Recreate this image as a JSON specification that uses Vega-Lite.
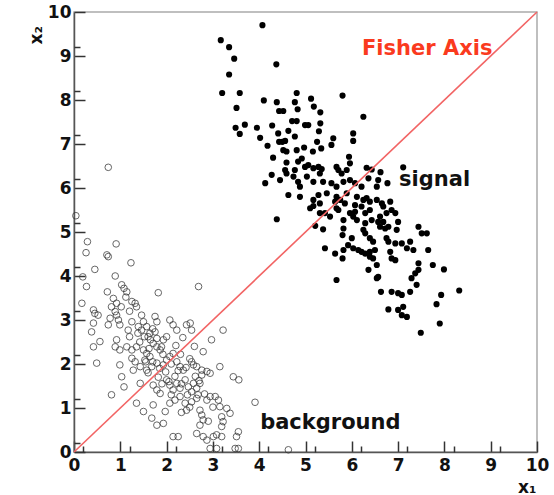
{
  "$schema": "https://vega.github.io/schema/vega-lite/v6.json",
  "width": 463,
  "height": 440,
  "autosize": {"type": "none"},
  "padding": {"left": 74, "top": 12, "right": 17, "bottom": 43},
  "background": "white",
  "config": {"view": {"stroke": "#aaa", "strokeWidth": 1.5}, "font": "DejaVu Sans", "axis": {"ticks": true}},
  "resolve": {"axis": {"x": "independent", "y": "independent"}},
  "datasets": {
    "line": [{"x": 0, "y": 0}, {"x": 10, "y": 10}],
    "labels": [
      {"t": "Fisher Axis", "x": 6.22, "y": 9.02},
      {"t": "signal", "x": 7.02, "y": 6.05},
      {"t": "background", "x": 4.02, "y": 0.52}
    ],
    "sig": [
      {"x":4.07,"y":9.70},{"x":3.17,"y":9.36},{"x":3.35,"y":9.20},{"x":3.46,"y":8.94},{"x":4.37,"y":8.81},{"x":3.35,"y":8.58},{"x":3.20,"y":8.16},{"x":3.58,"y":8.16},{"x":4.10,"y":7.99},{"x":4.81,"y":8.16},
      {"x":5.12,"y":8.03},{"x":3.51,"y":7.82},{"x":4.38,"y":7.95},{"x":4.43,"y":7.75},{"x":4.52,"y":7.75},{"x":4.77,"y":7.95},{"x":4.83,"y":7.79},{"x":5.18,"y":7.85},{"x":5.32,"y":7.72},{"x":3.49,"y":7.37},
      {"x":3.69,"y":7.44},{"x":3.58,"y":7.23},{"x":3.95,"y":7.37},{"x":4.28,"y":7.42},{"x":4.71,"y":7.52},{"x":4.81,"y":7.52},{"x":4.99,"y":7.43},{"x":5.06,"y":7.43},{"x":5.32,"y":7.47},{"x":4.02,"y":7.14},
      {"x":4.63,"y":7.30},{"x":5.29,"y":7.29},{"x":4.18,"y":6.96},{"x":4.43,"y":7.05},{"x":4.50,"y":7.05},{"x":4.56,"y":7.07},{"x":4.77,"y":7.17},{"x":4.52,"y":6.86},{"x":4.59,"y":6.83},{"x":4.81,"y":6.86},
      {"x":4.97,"y":6.92},{"x":5.16,"y":6.83},{"x":5.25,"y":7.05},{"x":5.34,"y":6.90},{"x":5.60,"y":7.13},{"x":5.56,"y":6.98},{"x":4.30,"y":6.69},{"x":4.59,"y":6.58},{"x":4.84,"y":6.60},{"x":4.92,"y":6.67},
      {"x":4.56,"y":6.41},{"x":4.77,"y":6.41},{"x":4.99,"y":6.48},{"x":5.06,"y":6.52},{"x":5.17,"y":6.45},{"x":5.28,"y":6.48},{"x":5.35,"y":6.43},{"x":4.27,"y":6.30},{"x":5.67,"y":6.48},{"x":4.41,"y":7.24},
      {"x":5.80,"y":8.10},{"x":6.25,"y":7.62},{"x":6.03,"y":7.24},{"x":6.03,"y":7.07},{"x":5.94,"y":6.71},{"x":5.96,"y":6.56},{"x":5.71,"y":6.41},{"x":5.78,"y":6.33},{"x":5.89,"y":6.41},{"x":6.32,"y":6.46},
      {"x":6.43,"y":6.42},{"x":6.62,"y":6.36},{"x":7.11,"y":6.47},{"x":6.36,"y":6.22},{"x":6.57,"y":6.18},{"x":6.77,"y":6.11},{"x":6.54,"y":6.03},{"x":6.21,"y":6.03},{"x":6.07,"y":6.11},
      {"x":4.59,"y":6.33},{"x":4.74,"y":6.26},{"x":5.03,"y":6.26},{"x":5.17,"y":6.14},{"x":5.31,"y":6.33},{"x":5.38,"y":6.14},{"x":5.56,"y":6.11},{"x":5.67,"y":6.03},{"x":5.82,"y":6.14},{"x":5.96,"y":6.18},
      {"x":4.13,"y":6.11},{"x":4.45,"y":6.18},{"x":4.63,"y":5.84},{"x":4.88,"y":6.03},{"x":4.84,"y":6.14},{"x":5.10,"y":5.54},{"x":5.17,"y":5.59},{"x":4.38,"y":5.29},{"x":5.28,"y":5.84},{"x":5.46,"y":5.88},
      {"x":5.42,"y":5.43},{"x":5.21,"y":5.14},{"x":5.38,"y":5.06},{"x":5.71,"y":5.50},{"x":5.85,"y":5.65},{"x":5.64,"y":5.69},{"x":5.67,"y":5.54},{"x":5.82,"y":5.27},{"x":5.82,"y":5.08},{"x":5.80,"y":4.93},
      {"x":6.07,"y":5.61},{"x":6.21,"y":5.58},{"x":6.29,"y":5.43},{"x":6.07,"y":5.46},{"x":5.96,"y":5.43},{"x":6.03,"y":5.35},{"x":6.32,"y":5.77},{"x":6.39,"y":5.69},{"x":6.65,"y":5.65},{"x":6.83,"y":5.69},
      {"x":6.86,"y":5.50},{"x":6.75,"y":5.43},{"x":6.94,"y":5.43},{"x":6.29,"y":5.20},{"x":6.43,"y":5.27},{"x":6.57,"y":5.23},{"x":6.68,"y":5.23},{"x":6.79,"y":5.12},{"x":6.72,"y":5.08},{"x":7.00,"y":5.23},
      {"x":6.00,"y":4.86},{"x":5.92,"y":4.70},{"x":6.03,"y":4.63},{"x":6.29,"y":4.97},{"x":6.39,"y":4.86},{"x":6.46,"y":4.78},{"x":5.42,"y":4.63},{"x":5.64,"y":4.51},{"x":5.82,"y":4.59},{"x":5.80,"y":4.40},
      {"x":6.14,"y":4.59},{"x":6.21,"y":4.55},{"x":6.29,"y":4.51},{"x":6.39,"y":4.55},{"x":6.50,"y":4.59},{"x":6.39,"y":4.44},{"x":6.46,"y":4.40},{"x":6.75,"y":4.86},{"x":6.79,"y":4.78},{"x":6.94,"y":4.74},
      {"x":7.08,"y":4.74},{"x":7.26,"y":4.78},{"x":7.19,"y":4.63},{"x":7.33,"y":4.59},{"x":6.83,"y":4.55},{"x":6.86,"y":4.40},{"x":6.94,"y":4.36},{"x":7.44,"y":5.12},{"x":7.51,"y":4.97},{"x":7.62,"y":4.97},
      {"x":7.65,"y":4.59},{"x":7.44,"y":4.29},{"x":7.44,"y":4.14},{"x":7.37,"y":4.06},{"x":7.29,"y":3.95},{"x":7.40,"y":3.80},{"x":7.75,"y":4.25},{"x":7.99,"y":4.15},{"x":6.36,"y":4.14},{"x":6.54,"y":4.25},
      {"x":6.57,"y":3.98},{"x":6.54,"y":3.95},{"x":5.67,"y":3.91},{"x":6.63,"y":3.64},{"x":6.86,"y":3.64},{"x":7.00,"y":3.61},{"x":7.08,"y":3.57},{"x":7.26,"y":3.64},{"x":7.93,"y":3.57},{"x":7.83,"y":3.36},
      {"x":7.90,"y":2.92},{"x":6.79,"y":3.24},{"x":7.00,"y":3.23},{"x":7.11,"y":3.30},{"x":7.08,"y":3.11},{"x":7.19,"y":3.07},{"x":7.49,"y":2.71},{"x":8.32,"y":3.67},
      {"x":4.88,"y":5.80},{"x":5.17,"y":5.73},{"x":5.31,"y":5.65},{"x":5.67,"y":5.80},{"x":5.75,"y":5.73},{"x":5.89,"y":5.88},{"x":6.11,"y":5.80},{"x":6.25,"y":5.73},{"x":6.54,"y":5.73},{"x":6.68,"y":5.58},
      {"x":6.25,"y":5.05},{"x":6.61,"y":5.12},{"x":6.97,"y":5.05},{"x":5.31,"y":5.43},{"x":5.53,"y":5.35},{"x":6.11,"y":5.27},{"x":6.39,"y":5.50},{"x":6.61,"y":5.35}
    ],
    "bkg": [
      {"x":0.29,"y":4.78},{"x":0.26,"y":4.53},{"x":0.91,"y":4.73},{"x":0.71,"y":4.48},{"x":0.74,"y":4.44},{"x":1.23,"y":4.30},{"x":0.45,"y":4.15},{"x":0.19,"y":3.98},{"x":0.89,"y":4.00},{"x":0.27,"y":3.76},
      {"x":1.03,"y":3.80},{"x":1.08,"y":3.72},{"x":1.14,"y":3.64},{"x":2.69,"y":3.76},{"x":1.82,"y":3.62},{"x":0.72,"y":3.64},{"x":0.17,"y":3.38},{"x":0.85,"y":3.49},{"x":0.92,"y":3.38},{"x":0.81,"y":3.30},
      {"x":1.25,"y":3.42},{"x":1.32,"y":3.38},{"x":1.35,"y":3.30},{"x":0.42,"y":3.23},{"x":0.45,"y":3.15},{"x":0.52,"y":3.11},{"x":0.89,"y":3.19},{"x":0.92,"y":3.11},{"x":0.96,"y":3.00},{"x":0.74,"y":2.89},
      {"x":0.78,"y":3.04},{"x":0.38,"y":2.73},{"x":0.42,"y":2.93},{"x":0.56,"y":2.51},{"x":0.42,"y":2.39},{"x":0.99,"y":2.89},{"x":1.17,"y":2.77},{"x":1.25,"y":2.96},{"x":1.46,"y":3.11},{"x":1.50,"y":2.96},
      {"x":1.39,"y":2.85},{"x":1.46,"y":2.77},{"x":1.57,"y":2.85},{"x":1.64,"y":2.70},{"x":1.60,"y":2.62},{"x":1.75,"y":2.73},{"x":1.79,"y":2.58},{"x":1.75,"y":3.08},{"x":1.79,"y":2.96},{"x":2.07,"y":3.00},
      {"x":2.14,"y":2.89},{"x":2.22,"y":2.77},{"x":2.43,"y":2.89},{"x":2.51,"y":2.93},{"x":2.54,"y":2.77},{"x":3.22,"y":2.77},{"x":2.97,"y":2.55},{"x":2.79,"y":2.28},{"x":0.92,"y":2.55},{"x":0.89,"y":2.39},
      {"x":0.99,"y":2.32},{"x":1.14,"y":2.39},{"x":1.25,"y":2.32},{"x":1.35,"y":2.39},{"x":0.49,"y":2.02},{"x":0.99,"y":1.98},{"x":1.25,"y":2.13},{"x":1.32,"y":2.05},{"x":1.28,"y":1.86},{"x":1.50,"y":2.32},
      {"x":1.57,"y":2.24},{"x":1.64,"y":2.17},{"x":1.53,"y":2.09},{"x":1.71,"y":2.47},{"x":1.79,"y":2.39},{"x":1.86,"y":2.32},{"x":1.93,"y":2.55},{"x":1.89,"y":2.39},{"x":1.43,"y":1.94},{"x":1.57,"y":1.86},
      {"x":1.68,"y":1.94},{"x":1.79,"y":2.02},{"x":1.93,"y":1.98},{"x":2.00,"y":2.09},{"x":2.07,"y":2.17},{"x":2.14,"y":2.24},{"x":2.22,"y":2.05},{"x":2.29,"y":1.94},{"x":2.36,"y":1.86},{"x":2.54,"y":2.05},
      {"x":2.58,"y":1.98},{"x":2.65,"y":1.94},{"x":2.76,"y":1.86},{"x":2.87,"y":1.83},{"x":2.94,"y":1.79},{"x":2.76,"y":1.75},{"x":3.15,"y":1.94},{"x":3.44,"y":1.71},{"x":3.56,"y":1.64},{"x":1.43,"y":1.56},
      {"x":1.71,"y":1.52},{"x":1.79,"y":1.41},{"x":1.86,"y":1.33},{"x":2.00,"y":1.64},{"x":2.07,"y":1.52},{"x":2.14,"y":1.41},{"x":2.22,"y":1.56},{"x":2.29,"y":1.45},{"x":2.40,"y":1.64},{"x":2.47,"y":1.48},
      {"x":2.54,"y":1.37},{"x":2.58,"y":1.56},{"x":2.65,"y":1.45},{"x":2.72,"y":1.56},{"x":2.68,"y":1.30},{"x":0.81,"y":1.30},{"x":1.08,"y":1.48},{"x":1.03,"y":1.71},{"x":1.35,"y":1.11},{"x":1.50,"y":0.92},
      {"x":1.71,"y":1.07},{"x":1.68,"y":0.77},{"x":1.79,"y":0.61},{"x":1.93,"y":0.65},{"x":1.97,"y":0.92},{"x":2.07,"y":1.11},{"x":2.18,"y":1.18},{"x":2.29,"y":1.26},{"x":2.40,"y":1.11},{"x":2.43,"y":0.95},
      {"x":2.54,"y":1.14},{"x":2.65,"y":1.22},{"x":2.72,"y":0.95},{"x":2.76,"y":0.84},{"x":2.79,"y":0.73},{"x":2.72,"y":0.61},{"x":2.87,"y":1.18},{"x":2.94,"y":1.26},{"x":3.05,"y":1.26},{"x":3.12,"y":1.18},
      {"x":3.15,"y":1.03},{"x":3.19,"y":0.80},{"x":3.22,"y":0.69},{"x":3.19,"y":0.58},{"x":3.30,"y":0.99},{"x":3.37,"y":0.88},{"x":3.91,"y":1.13},{"x":2.65,"y":0.42},{"x":2.79,"y":0.35},{"x":2.87,"y":0.27},
      {"x":3.01,"y":0.35},{"x":3.08,"y":0.39},{"x":3.19,"y":0.35},{"x":3.55,"y":0.46},{"x":3.51,"y":0.35},{"x":2.14,"y":0.35},{"x":2.25,"y":0.35},{"x":2.94,"y":0.08},{"x":3.08,"y":0.08},{"x":3.48,"y":0.08},
      {"x":3.55,"y":0.08},{"x":0.74,"y":6.47},{"x":0.04,"y":5.37},{"x":4.63,"y":0.05},
      {"x":1.62,"y":2.35},{"x":1.70,"y":2.05},{"x":1.98,"y":1.82},{"x":2.18,"y":1.72},{"x":2.32,"y":1.55},{"x":1.92,"y":2.22},{"x":2.10,"y":2.00},{"x":2.42,"y":1.92},{"x":2.62,"y":1.72},{"x":1.52,"y":2.62},
      {"x":1.70,"y":2.80},{"x":1.42,"y":2.50},{"x":1.20,"y":2.62},{"x":1.02,"y":3.30},{"x":1.12,"y":3.52},{"x":1.20,"y":3.20},{"x":2.00,"y":2.62},{"x":2.20,"y":2.42},{"x":2.30,"y":2.22},{"x":2.50,"y":2.12},
      {"x":2.70,"y":1.62},{"x":2.82,"y":1.32},{"x":2.50,"y":1.02},{"x":2.32,"y":0.90},{"x":3.00,"y":1.02},{"x":2.90,"y":0.70},{"x":1.82,"y":1.70},{"x":1.60,"y":1.80},{"x":2.10,"y":1.30},{"x":2.60,"y":2.40},
      {"x":1.55,"y":2.05},{"x":1.85,"y":1.90},{"x":2.25,"y":1.85},{"x":2.05,"y":1.60},{"x":1.38,"y":2.70},{"x":1.65,"y":2.55},{"x":2.35,"y":2.60},{"x":1.90,"y":1.55},{"x":2.45,"y":1.30}
    ]
  },
  "layer": [
    {
      "data": {"name": "bkg"},
      "mark": {"type": "point", "shape": "circle", "filled": false, "stroke": "#333", "strokeWidth": 1, "size": 44, "opacity": 0.75},
      "encoding": {
        "x": {
          "field": "x", "type": "quantitative",
          "scale": {"domain": [0, 10], "nice": false, "zero": false},
          "axis": {
            "orient": "bottom",
            "values": [0,1,2,3,4,5,6,7,8,9,10],
            "ticks": true, "tickSize": -11, "labelPadding": 16, "tickColor": "#333", "tickWidth": 1.5,
            "labelFlush": false, "labelOverlap": false, "grid": false,
            "labelFont": "DejaVu Sans", "labelFontWeight": "bold", "labelFontSize": 17, "labelColor": "#111",
            "domainColor": "#555", "domainWidth": 1.5,
            "title": "x₁", "titleFont": "DejaVu Sans", "titleFontWeight": "bold", "titleFontSize": 17, "titleColor": "#111",
            "titleX": 462, "titleY": 40, "titleAlign": "right", "titleBaseline": "alphabetic"
          }
        },
        "y": {
          "field": "y", "type": "quantitative",
          "scale": {"domain": [0, 10], "nice": false, "zero": false},
          "axis": {
            "orient": "left",
            "values": [0,1,2,3,4,5,6,7,8,9,10],
            "ticks": true, "tickSize": -11, "labelPadding": 14, "tickColor": "#333", "tickWidth": 1.5,
            "labelFlush": false, "labelOverlap": false, "grid": false,
            "labelFont": "DejaVu Sans", "labelFontWeight": "bold", "labelFontSize": 17, "labelColor": "#111",
            "domainColor": "#555", "domainWidth": 1.5,
            "title": "x₂", "titleFont": "DejaVu Sans", "titleFontWeight": "bold", "titleFontSize": 17, "titleColor": "#111",
            "titleAngle": -90, "titleX": -33, "titleY": 32, "titleAlign": "left", "titleBaseline": "alphabetic"
          }
        }
      }
    },
    {
      "layer": [
        {
          "data": {"name": "sig"},
          "mark": {"type": "circle", "color": "#000", "size": 38, "opacity": 1},
          "encoding": {
            "x": {
              "field": "x", "type": "quantitative",
              "axis": {
                "orient": "top", "offset": -440,
                "values": [0.2,0.4,0.6,0.8,1.2,1.4,1.6,1.8,2.2,2.4,2.6,2.8,3.2,3.4,3.6,3.8,4.2,4.4,4.6,4.8,5.2,5.4,5.6,5.8,6.2,6.4,6.6,6.8,7.2,7.4,7.6,7.8,8.2,8.4,8.6,8.8,9.2,9.4,9.6,9.8],
                "ticks": true, "tickSize": 6, "labels": false, "domain": false, "grid": false, "title": null,
                "tickColor": "#333", "tickWidth": 1.5
              }
            },
            "y": {
              "field": "y", "type": "quantitative",
              "axis": {
                "orient": "right", "offset": -463,
                "values": [0.2,0.4,0.6,0.8,1.2,1.4,1.6,1.8,2.2,2.4,2.6,2.8,3.2,3.4,3.6,3.8,4.2,4.4,4.6,4.8,5.2,5.4,5.6,5.8,6.2,6.4,6.6,6.8,7.2,7.4,7.6,7.8,8.2,8.4,8.6,8.8,9.2,9.4,9.6,9.8],
                "ticks": true, "tickSize": 6, "labels": false, "domain": false, "grid": false, "title": null,
                "tickColor": "#333", "tickWidth": 1.5
              }
            }
          }
        },
        {
          "data": {"name": "line"},
          "mark": {"type": "line", "color": "#f26464", "strokeWidth": 1.6},
          "encoding": {
            "x": {"field": "x", "type": "quantitative"},
            "y": {"field": "y", "type": "quantitative"}
          }
        },
        {
          "data": {"name": "labels"},
          "mark": {"type": "text", "align": "left", "baseline": "alphabetic", "font": "DejaVu Sans", "fontWeight": "bold", "fontSize": 21},
          "encoding": {
            "x": {"field": "x", "type": "quantitative"},
            "y": {"field": "y", "type": "quantitative"},
            "text": {"field": "t"},
            "color": {"condition": {"test": "datum.t === 'Fisher Axis'", "value": "#fa3a1e"}, "value": "#111"}
          }
        }
      ]
    }
  ]
}
